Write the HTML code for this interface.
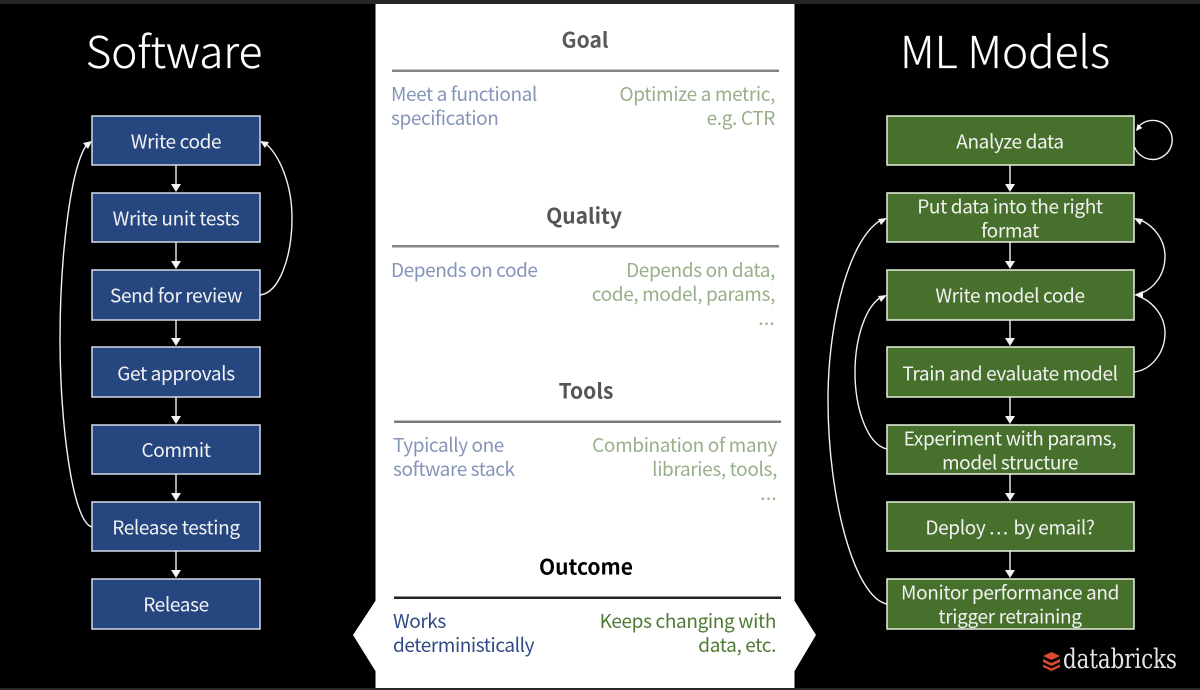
<!DOCTYPE html>
<html><head><meta charset="utf-8"><style>
html,body{margin:0;padding:0;background:#000;width:1200px;height:690px;overflow:hidden}
svg{display:block}
text{font-family:"Noto Sans CJK JP","Liberation Sans",sans-serif}
.b{font-size:19px;letter-spacing:-.36px;fill:#f2f2f2;text-anchor:middle}
.t{font-size:44px;fill:#fff;text-anchor:middle;font-weight:300;stroke:#fff;stroke-width:.25px}
.h{font-size:21px;font-weight:700;text-anchor:middle}
.l{font-size:19px;letter-spacing:-.42px;text-anchor:start}
.r{font-size:19px;letter-spacing:-.36px;text-anchor:end}
.d{letter-spacing:.3px}
.bx{fill:#25467f;stroke:#c9d0de;stroke-width:1.6}
.gx{fill:#46702c;stroke:#dde5d5;stroke-width:1.6}
.c{fill:none;stroke:#f2f2f2;stroke-width:1.4}
.a{fill:#f5f5f5}
</style></head><body>
<svg width="1200" height="690" viewBox="0 0 1200 690" xmlns="http://www.w3.org/2000/svg">
<rect width="1200" height="690" fill="#000"/>
<rect width="1200" height="4" fill="#262626"/>
<rect y="688" width="1200" height="2" fill="#2a2a2a"/>
<rect x="375.500" y="4" width="419" height="684" fill="#fff"/>
<polygon points="376,600 353,635 376,672" fill="#fff"/>
<polygon points="794,600 816,635 794,672" fill="#fff"/>

<text class="t" x="174" y="68">Software</text>
<text class="t" x="1005" y="68">ML Models</text>

<g>
<rect class="bx" x="92" y="116" width="168" height="49"/>
<rect class="bx" x="92" y="193" width="168" height="49"/>
<rect class="bx" x="92" y="270" width="168" height="50"/>
<rect class="bx" x="92" y="347" width="168" height="50"/>
<rect class="bx" x="92" y="425" width="168" height="49"/>
<rect class="bx" x="92" y="502" width="168" height="49"/>
<rect class="bx" x="92" y="579" width="168" height="50"/>
</g>
<text class="b" x="176" y="148.500">Write code</text>
<text class="b" x="176" y="225.500">Write unit tests</text>
<text class="b" x="176" y="302.500">Send for review</text>
<text class="b" x="176" y="380.500">Get approvals</text>
<text class="b" x="176" y="457">Commit</text>
<text class="b" x="176" y="534.500">Release testing</text>
<text class="b" x="176" y="611.500">Release</text>

<g>
<rect class="gx" x="887" y="116" width="247" height="49"/>
<rect class="gx" x="887" y="193" width="247" height="49"/>
<rect class="gx" x="887" y="270" width="247" height="50"/>
<rect class="gx" x="887" y="347" width="247" height="50"/>
<rect class="gx" x="887" y="425" width="247" height="49"/>
<rect class="gx" x="887" y="502" width="247" height="49"/>
<rect class="gx" x="887" y="579" width="247" height="50"/>
</g>
<text class="b" x="1010" y="148.500">Analyze data</text>
<text class="b" x="1010" y="213.500">Put data into the right</text>
<text class="b" x="1010" y="237.500">format</text>
<text class="b" x="1010" y="302.500">Write model code</text>
<text class="b" x="1010" y="380.500">Train and evaluate model</text>
<text class="b" x="1010" y="445.500">Experiment with params,</text>
<text class="b" x="1010" y="469.500">model structure</text>
<text class="b" x="1010" y="534.500">Deploy <tspan style="letter-spacing:1.5px">...</tspan> by email?</text>
<text class="b" x="1010" y="599.500">Monitor performance and</text>
<text class="b" x="1010" y="623.500">trigger retraining</text>

<g>
<path class="c" d="M176,165V186M176,242V263M176,320V341M176,397V418M176,474V495M176,551V572"/>
<path class="c" d="M1010,165V186M1010,242V263M1010,320V341M1010,397V418M1010,474V495M1010,551V572"/>
<path class="c" d="M92,527C72,522 60,420 60,340C60,260 70,165 88,143"/>
<path class="c" d="M260,295C280,293 292,255 292,218C292,185 280,155 264,142"/>
<path class="c" d="M1134.500,147A19.500,19.500 0 1 0 1139,126"/>
<path class="c" d="M1136,295C1154,290 1165,275 1165,256C1165,240 1154,225 1138,219"/>
<path class="c" d="M1134,372C1152,370 1165,352 1165,333C1165,317 1154,302 1138,296"/>
<path class="c" d="M887,449C868,445 855,410 855,372C855,340 865,305 883,296"/>
<path class="c" d="M887,604C855,598 828,500 828,400C828,320 850,235 883,219"/>
</g>
<g class="a">
<polygon points="176,192 171,184 181,184"/><polygon points="176,269 171,261 181,261"/><polygon points="176,346 171,338 181,338"/><polygon points="176,424 171,416 181,416"/><polygon points="176,501 171,493 181,493"/><polygon points="176,578 171,570 181,570"/>
<polygon points="1010,192 1005,184 1015,184"/><polygon points="1010,269 1005,261 1015,261"/><polygon points="1010,346 1005,338 1015,338"/><polygon points="1010,424 1005,416 1015,416"/><polygon points="1010,501 1005,493 1015,493"/><polygon points="1010,578 1005,570 1015,570"/>
<polygon points="92,141 83,143 88,149"/>
<polygon points="260,141 269,142 265,148"/>
<polygon points="1136,131 1137.500,124 1142.500,128"/>
<polygon points="1134,218 1143,219 1140,225"/>
<polygon points="1134,295 1143,291 1143,298"/>
<polygon points="887,218 878,219 881,225"/>
<polygon points="887,295 878,296 881,302"/>
</g>

<text class="h" x="585" y="47.500" fill="#5a5a5a">Goal</text>
<rect x="392" y="69.500" width="387" height="2.500" fill="#858585"/>
<text class="l" x="391" y="101" fill="#8595b8">Meet a functional</text>
<text class="l" x="391" y="125" fill="#8595b8">specification</text>
<text class="r" x="775" y="101" fill="#98af8a">Optimize a metric,</text>
<text class="r" x="775" y="125" fill="#98af8a">e.g. CTR</text>

<text class="h" x="584" y="223.500" fill="#555">Quality</text>
<rect x="392" y="245" width="387" height="2.500" fill="#858585"/>
<text class="l" x="391" y="277" fill="#8595b8">Depends on code</text>
<text class="r" x="775" y="277" fill="#98af8a">Depends on data,</text>
<text class="r" x="775" y="301" fill="#98af8a">code, model, params,</text>
<text class="r d" x="775" y="325" fill="#98af8a">...</text>

<text class="h" x="586" y="398.500" fill="#555">Tools</text>
<rect x="394" y="420.500" width="387" height="2.500" fill="#7c7c7c"/>
<text class="l" x="393" y="452" fill="#8595b8">Typically one</text>
<text class="l" x="393" y="476" fill="#8595b8">software stack</text>
<text class="r" x="777" y="452" fill="#98af8a">Combination of many</text>
<text class="r" x="777" y="476" fill="#98af8a">libraries, tools,</text>
<text class="r d" x="777" y="500" fill="#98af8a">...</text>

<text class="h" x="586" y="574.500" fill="#000">Outcome</text>
<rect x="394" y="596.500" width="387" height="2.500" fill="#222"/>
<text class="l" x="393" y="628" fill="#2f4a85">Works</text>
<text class="l" x="393" y="652" fill="#2f4a85">deterministically</text>
<text class="r" x="776" y="628" fill="#4f7a35">Keeps changing with</text>
<text class="r" x="776" y="652" fill="#4f7a35">data, etc.</text>

<g fill="#dd4a2d">
<polygon points="1051.500,652 1060,656 1051.500,660 1043,656"/>
<polygon points="1043,659 1051.500,663 1060,659 1060,662 1051.500,666 1043,662"/>
<polygon points="1043,664.500 1051.500,668.500 1060,664.500 1060,667 1051.500,671 1043,667"/>
</g>
<text x="1063" y="668" font-size="27" textLength="114" lengthAdjust="spacingAndGlyphs" style="font-family:'DejaVu Serif','Liberation Serif',serif" fill="#e6e6e6">databricks</text>
</svg>
</body></html>
